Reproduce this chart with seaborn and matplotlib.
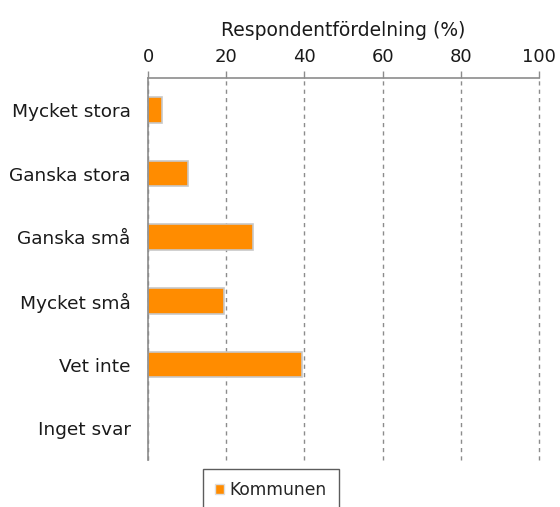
import matplotlib
matplotlib.use("Agg")
import matplotlib.pyplot as plt
import seaborn as sns
import pandas as pd
from matplotlib.patches import Patch

# -------------------------------
# Data
categories = ["Mycket stora", "Ganska stora", "Ganska små", "Mycket små", "Vet inte", "Inget svar"]
kommunen = [3.6, 10.3, 26.8, 19.4, 39.5, 0.0]
x_ticks = [0, 20, 40, 60, 80, 100]
series_name = "Kommunen"

df = pd.DataFrame({"svar": categories, "procent": kommunen})

# -------------------------------
# Style
sns.set_style("white")
plt.rcParams['font.family'] = ['DejaVu Sans']
orange = "#FF8C00"
grey = "#8c8c8c"
text_col = "#1a1a1a"

fig = plt.figure(figsize=(5.6, 5.07), dpi=100)
ax = fig.add_axes([148/560, 1 - 460/507, 391/560, 382/507])

sns.barplot(data=df, x="procent", y="svar", orient="h", color=orange,
            width=0.4, edgecolor="#c8c8c8", linewidth=1.2, saturation=1, ax=ax)

ax.set_xlim(0, 100)
ax.set_ylim(5.5, -0.5)
ax.set_xticks(x_ticks)
ax.xaxis.tick_top()
ax.xaxis.set_label_position("top")
ax.set_xlabel("Respondentfördelning (%)", fontsize=13.5, color=text_col, labelpad=8)
ax.set_ylabel("")
ax.tick_params(axis="x", top=True, length=5, width=1, color=grey, labelsize=13,
               labelcolor=text_col, pad=4)
ax.tick_params(axis="y", left=False, labelsize=13.3, labelcolor=text_col, pad=9)

# dashed grid lines
ax.grid(axis="x", linestyle=(0, (3, 3)), color=grey, linewidth=1)
ax.set_axisbelow(True)
for gl in ax.get_xgridlines():
    gl.set_clip_on(False)

for side in ["right", "bottom"]:
    ax.spines[side].set_visible(False)
for side in ["top", "left"]:
    ax.spines[side].set_color(grey)
    ax.spines[side].set_linewidth(1.2)

# legend (cut off at the bottom like in the original)
handle = Patch(facecolor=orange, edgecolor="#dddddd", label=series_name)
fig.legend(handles=[handle], loc="upper left", bbox_to_anchor=(203/560, 1 - 469/507),
           frameon=True, fancybox=False, edgecolor="#333333", fontsize=12.3,
           handlelength=0.55, handleheight=0.55, handletextpad=0.3, borderpad=0.7,
           borderaxespad=0)

fig.savefig("out.png", dpi=100)
